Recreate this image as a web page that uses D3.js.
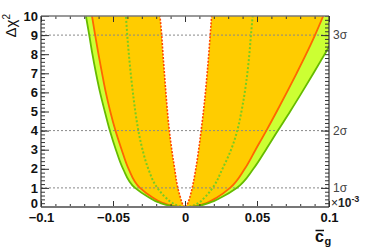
<!DOCTYPE html>
<html><head><meta charset="utf-8">
<script src="https://cdn.jsdelivr.net/npm/d3@7"></script>
<style>body{margin:0;background:#fff}svg{display:block}</style>
</head><body>
<script>
// Δχ² levels at which every curve is sampled
const levels = [0, 0.05, 0.25, 0.5, 1, 2, 3, 4, 5, 6, 7, 8, 9, 10];
// outer green curve (left / right branch), x = c̄g
const greenLeft  = [0, -0.0085, -0.0187, -0.0250, -0.0347, -0.0430, -0.0480, -0.0522, -0.0557, -0.0590, -0.0618, -0.0643, -0.0665, -0.0688];
const greenRight = [0, 0.0082, 0.0180, 0.0250, 0.0359, 0.0475, 0.0562, 0.0645, 0.0730, 0.0812, 0.0892, 0.0970, 0.1047, 0.1122];
// orange solid curve
const orangeLeft  = [0, -0.0075, -0.0165, -0.0225, -0.0313, -0.0392, -0.0440, -0.0483, -0.0519, -0.0550, -0.0576, -0.0601, -0.0624, -0.0646];
const orangeRight = [0, 0.0072, 0.0160, 0.0222, 0.0313, 0.0415, 0.0490, 0.0565, 0.0637, 0.0707, 0.0775, 0.0841, 0.0903, 0.0960];
// green dotted curve
const dotGreenLeft  = [0, -0.0040, -0.0095, -0.0135, -0.0192, -0.0255, -0.0295, -0.0324, -0.0345, -0.0362, -0.0377, -0.0390, -0.0401, -0.0410];
const dotGreenRight = [0, 0.0045, 0.0100, 0.0137, 0.0192, 0.0260, 0.0320, 0.0363, 0.0392, 0.0415, 0.0433, 0.0447, 0.0458, 0.0470];
// red dotted (inner) curve
const dotRedLeft  = [0, -0.0008, -0.0022, -0.0032, -0.0050, -0.0072, -0.0092, -0.0109, -0.0122, -0.0133, -0.0143, -0.0153, -0.0162, -0.0174];
const dotRedRight = [0, 0.0008, 0.0022, 0.0033, 0.0050, 0.0075, 0.0095, 0.0112, 0.0128, 0.0142, 0.0154, 0.0165, 0.0175, 0.0185];
// reference lines and labels
const refLevels = [1, 4, 9];
const sigmaLabels = ["1σ", "2σ", "3σ"];
const xTicks = [-0.1, -0.05, 0, 0.05, 0.1];
const xTickLabels = ["−0.1", "−0.05", "0", "0.05", "0.1"];
const yTicks = [0, 1, 2, 3, 4, 5, 6, 7, 8, 9, 10];

const W = 366, H = 248;
const L = 41, R = 329, T = 16, B = 207;
const x = d3.scaleLinear([-0.1, 0.1], [L, R]);
const y = d3.scaleLinear([0, 10], [B, T]);

const svg = d3.select("body").append("svg").attr("width", W).attr("height", H);
svg.append("defs").append("clipPath").attr("id", "clip")
  .append("rect").attr("x", L).attr("y", T).attr("width", R - L).attr("height", B - T);

const idx = levels.map((v, i) => i);
const plot = svg.append("g").attr("clip-path", "url(#clip)");

function area(lo, hi) {
  return d3.area().curve(d3.curveMonotoneY)
    .y(i => y(levels[i])).x0(i => x(lo[i])).x1(i => x(hi[i]))(idx);
}
function line(arr) {
  return d3.line().curve(d3.curveMonotoneY)
    .x(i => x(arr[i])).y(i => y(levels[i]))(idx);
}

plot.append("path").attr("d", area(greenLeft, greenRight)).attr("fill", "#ccff33");
plot.append("path").attr("d", area(orangeLeft, orangeRight)).attr("fill", "#ffcc00");
plot.append("path").attr("d", area(dotRedLeft, dotRedRight)).attr("fill", "#ffffff");

plot.selectAll("line.ref").data(refLevels).join("line")
  .attr("x1", L).attr("x2", R).attr("y1", d => y(d)).attr("y2", d => y(d))
  .attr("stroke", "#888").attr("stroke-width", 1).attr("stroke-dasharray", "2,2");

[dotGreenLeft, dotGreenRight].forEach(a => plot.append("path").attr("d", line(a))
  .attr("fill", "none").attr("stroke", "#77cc22").attr("stroke-width", 2).attr("stroke-dasharray", "2,2"));
[dotRedLeft, dotRedRight].forEach(a => plot.append("path").attr("d", line(a))
  .attr("fill", "none").attr("stroke", "#ff4400").attr("stroke-width", 1.6).attr("stroke-dasharray", "2,1.5"));
[orangeLeft, orangeRight].forEach(a => plot.append("path").attr("d", line(a))
  .attr("fill", "none").attr("stroke", "#ff6600").attr("stroke-width", 1.8));
[greenLeft, greenRight].forEach(a => plot.append("path").attr("d", line(a))
  .attr("fill", "none").attr("stroke", "#66bb00").attr("stroke-width", 1.8));

// axes
const font = "'Liberation Sans', Arial, Helvetica, sans-serif";
function style(g) {
  g.select(".domain").remove();
  g.selectAll("line").attr("stroke", "#333");
  g.selectAll("text").attr("font-family", font).attr("font-size", 13).attr("font-weight", "bold").attr("fill", "#111");
}
const minorX = d3.range(-10, 11).map(d => d / 100);
const minorY = d3.range(0, 51).map(d => d / 5);

svg.append("g").attr("transform", `translate(0,${B})`)
  .call(d3.axisBottom(x).tickValues(minorX).tickSize(-3).tickFormat("")).call(g => style(g));
svg.append("g").attr("transform", `translate(0,${B})`)
  .call(d3.axisBottom(x).tickValues(xTicks).tickSize(-6).tickPadding(6).tickFormat((d, i) => xTickLabels[i])).call(g => style(g));
svg.append("g").attr("transform", `translate(0,${T})`)
  .call(d3.axisTop(x).tickValues(minorX).tickSize(-3).tickFormat("")).call(g => style(g));
svg.append("g").attr("transform", `translate(0,${T})`)
  .call(d3.axisTop(x).tickValues(xTicks).tickSize(-6).tickFormat("")).call(g => style(g));

svg.append("g").attr("transform", `translate(${L},0)`)
  .call(d3.axisLeft(y).tickValues(minorY).tickSize(-4).tickFormat("")).call(g => style(g));
const la = svg.append("g").attr("transform", `translate(${L},0)`)
  .call(d3.axisLeft(y).tickValues(yTicks).tickSize(-8).tickPadding(3).tickFormat(d3.format("d")));
style(la);
la.selectAll("text").filter(d => d === 0).attr("dy", "0.04em");

svg.append("g").attr("transform", `translate(${R},0)`)
  .call(d3.axisRight(y).tickValues(minorY).tickSize(-4).tickFormat("")).call(g => style(g));
const ra = svg.append("g").attr("transform", `translate(${R},0)`)
  .call(d3.axisRight(y).tickValues(refLevels).tickSize(-8).tickPadding(4).tickFormat((d, i) => sigmaLabels[i]));
style(ra);
ra.selectAll("text").attr("font-weight", "normal").attr("font-size", 12).attr("fill", "#444");

// frame
svg.append("line").attr("x1", L).attr("x2", R).attr("y1", T).attr("y2", T).attr("stroke", "#777").attr("stroke-width", 1.5);
svg.append("line").attr("x1", L).attr("x2", R).attr("y1", B).attr("y2", B).attr("stroke", "#777").attr("stroke-width", 2);
svg.append("line").attr("x1", L).attr("x2", L).attr("y1", T).attr("y2", B).attr("stroke", "#333").attr("stroke-width", 1.2);
svg.append("line").attr("x1", R).attr("x2", R).attr("y1", T).attr("y2", B).attr("stroke", "#333").attr("stroke-width", 1.2);

// ×10^-3
const ex = svg.append("text").attr("x", 331).attr("y", 207).attr("font-family", font).attr("fill", "#222");
ex.append("tspan").attr("font-size", 12).text("×");
ex.append("tspan").attr("font-size", 12).attr("font-weight", "bold").text("10");
ex.append("tspan").attr("font-size", 9).attr("font-weight", "bold").attr("dy", -5).text("-3");

// x title
svg.append("text").attr("x", 315).attr("y", 242).attr("font-family", font).attr("font-size", 16).attr("font-weight", "bold").attr("fill", "#111").text("c");
svg.append("line").attr("x1", 315.5).attr("x2", 324).attr("y1", 230.5).attr("y2", 230.5).attr("stroke", "#111").attr("stroke-width", 1.5);
svg.append("text").attr("x", 324.5).attr("y", 245).attr("font-family", font).attr("font-size", 11).attr("font-weight", "bold").attr("fill", "#111").text("g");

// y title
const yt = svg.append("text").attr("transform", "translate(16,14) rotate(-90)").attr("text-anchor", "end")
  .attr("font-family", font).attr("font-size", 15).attr("fill", "#111");
yt.append("tspan").text("Δχ");
yt.append("tspan").attr("font-size", 10).attr("dy", -6).text("2");
</script>
</body></html>
